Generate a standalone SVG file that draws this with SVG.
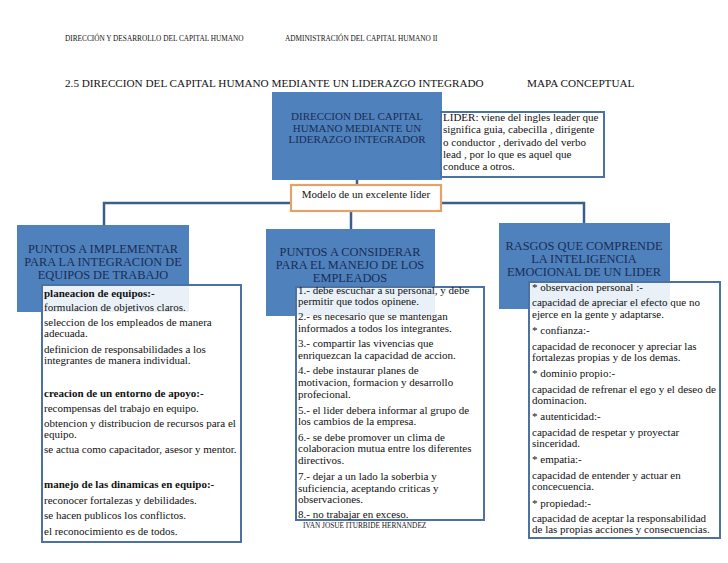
<svg xmlns="http://www.w3.org/2000/svg" width="728" height="563" viewBox="0 0 728 563">
<style>
text{font-family:"Liberation Serif","Times New Roman",serif;fill:#111}
.hdr{font-size:7.3px}
.ttl{font-size:11.2px}
.blue{fill:#4f81bd}
.head{fill:#1a2d55;font-size:12.4px;text-anchor:middle}
.chead{fill:#1a2d55;font-size:11px;text-anchor:middle}
.card{fill:#fff;fill-opacity:0.88;stroke:#4d71a0;stroke-width:2}
.body{font-size:11px}
.b{font-weight:bold}
.conn{stroke:#3b5f8c;stroke-width:2.5;fill:none}
</style>
<rect width="728" height="563" fill="#fff"/>
<text class="hdr" x="65" y="41">DIRECCIÓN Y DESARROLLO DEL CAPITAL HUMANO</text>
<text class="hdr" x="285" y="41">ADMINISTRACIÓN DEL CAPITAL HUMANO II</text>
<text class="ttl" x="65" y="87">2.5 DIRECCION DEL CAPITAL HUMANO MEDIANTE UN LIDERAZGO  INTEGRADO</text>
<text class="ttl" x="527" y="87">MAPA CONCEPTUAL</text>

<g id="connectors">
<path class="conn" d="M357 180V185"/>
<path class="conn" d="M104 226V203H291"/>
<path class="conn" d="M441 203H584V223"/>
<path class="conn" d="M351 211V229"/>
</g>

<g id="central">
<rect class="blue" x="272" y="92" width="170" height="88"/>
<text class="chead" x="357" y="120">DIRECCION DEL CAPITAL</text>
<text class="chead" x="357" y="131.7">HUMANO MEDIANTE UN</text>
<text class="chead" x="357" y="143">LIDERAZGO INTEGRADOR</text>
</g>

<g id="lider">
<rect x="441" y="112" width="163" height="65" fill="#fff" stroke="#4d71a0" stroke-width="2"/>
<text class="body" x="443" y="121">LIDER: viene del ingles leader que</text>
<text class="body" x="443" y="133.3">significa guia, cabecilla , dirigente</text>
<text class="body" x="443" y="145.7">o conductor , derivado  del verbo</text>
<text class="body" x="443" y="157.7">lead , por lo que es aquel que</text>
<text class="body" x="443" y="169.5">conduce a otros.</text>
</g>

<g id="modelo">
<rect x="291" y="185" width="150" height="26" fill="#fff" stroke="#e3a26a" stroke-width="2.2"/>
<text class="body" x="366" y="198" text-anchor="middle">Modelo de un excelente líder</text>
</g>

<g id="implementar">
<rect class="blue" x="17" y="225" width="172" height="87"/>
<text class="head" x="103" y="253">PUNTOS A IMPLEMENTAR</text>
<text class="head" x="103" y="266">PARA LA INTEGRACION DE</text>
<text class="head" x="103" y="279">EQUIPOS DE TRABAJO</text>
<rect class="card" x="42" y="285" width="199" height="257"/>
<text class="body b" x="44" y="296.5">planeacion de equipos:-</text>
<text class="body" x="44" y="311">formulacion de objetivos claros.</text>
<text class="body" x="44" y="326">seleccion de los empleados de manera</text>
<text class="body" x="44" y="337">adecuada.</text>
<text class="body" x="44" y="353">definicion de responsabilidades a los</text>
<text class="body" x="44" y="364">integrantes de manera individual.</text>
<text class="body b" x="44" y="397">creacion de un entorno de apoyo:-</text>
<text class="body" x="44" y="411.5">recompensas del trabajo en equipo.</text>
<text class="body" x="44" y="427">obtencion y distribucion de recursos para el</text>
<text class="body" x="44" y="437.5">equipo.</text>
<text class="body" x="44" y="453">se actua como capacitador, asesor y mentor.</text>
<text class="body b" x="44" y="488">manejo de las dinamicas en equipo:-</text>
<text class="body" x="44" y="503.5">reconocer fortalezas y debilidades.</text>
<text class="body" x="44" y="519">se hacen publicos los conflictos.</text>
<text class="body" x="44" y="534.5">el reconocimiento es de todos.</text>
</g>

<g id="considerar">
<rect class="blue" x="266" y="229" width="169" height="87"/>
<text class="head" x="350" y="256">PUNTOS A CONSIDERAR</text>
<text class="head" x="350" y="269">PARA EL MANEJO DE LOS</text>
<text class="head" x="350" y="282">EMPLEADOS</text>
<rect class="card" x="296" y="287" width="188" height="233"/>
<text class="body" x="298" y="293.5">1.- debe escuchar a su personal, y debe</text>
<text class="body" x="298" y="305">permitir que todos opinene.</text>
<text class="body" x="298" y="320">2.- es necesario que se mantengan</text>
<text class="body" x="298" y="331.5">informados a todos los integrantes.</text>
<text class="body" x="298" y="347">3.- compartir las vivencias que</text>
<text class="body" x="298" y="359">enriquezcan la capacidad de accion.</text>
<text class="body" x="298" y="374">4.- debe instaurar planes de</text>
<text class="body" x="298" y="385.7">motivacion, formacion y desarrollo</text>
<text class="body" x="298" y="397.5">profecional.</text>
<text class="body" x="298" y="413.5">5.- el lider debera informar al grupo de</text>
<text class="body" x="298" y="425">los cambios de la empresa.</text>
<text class="body" x="298" y="440.7">6.- se debe promover un clima de</text>
<text class="body" x="298" y="452">colaboracion mutua entre los diferentes</text>
<text class="body" x="298" y="464">directivos.</text>
<text class="body" x="298" y="480">7.- dejar a un lado la soberbia y</text>
<text class="body" x="298" y="491.7">suficiencia, aceptando criticas y</text>
<text class="body" x="298" y="502.5">observaciones.</text>
<text class="body" x="298" y="518">8.- no trabajar en exceso.</text>
</g>
<text class="hdr" x="303" y="527.5">IVAN JOSUE ITURBIDE HERNANDEZ</text>

<g id="rasgos">
<rect class="blue" x="499" y="223" width="171" height="86"/>
<text class="head" x="584" y="250">RASGOS QUE COMPRENDE</text>
<text class="head" x="584" y="263">LA INTELIGENCIA</text>
<text class="head" x="584" y="276">EMOCIONAL DE UN LIDER</text>
<rect class="card" x="529" y="282" width="191" height="256"/>
<text class="body" x="532" y="290.5">* observacion personal :-</text>
<text class="body" x="532" y="306">capacidad de apreciar el efecto que no</text>
<text class="body" x="532" y="317.5">ejerce en la gente y adaptarse.</text>
<text class="body" x="532" y="334">* confianza:-</text>
<text class="body" x="532" y="349.5">capacidad de reconocer y apreciar las</text>
<text class="body" x="532" y="361">fortalezas propias y de los demas.</text>
<text class="body" x="532" y="377">* dominio propio:-</text>
<text class="body" x="532" y="393">capacidad de refrenar el ego y el deseo de</text>
<text class="body" x="532" y="404">dominacion.</text>
<text class="body" x="532" y="420">* autenticidad:-</text>
<text class="body" x="532" y="436">capacidad de respetar y proyectar</text>
<text class="body" x="532" y="446.5">sinceridad.</text>
<text class="body" x="532" y="463">* empatia:-</text>
<text class="body" x="532" y="478.5">capacidad de entender y actuar en</text>
<text class="body" x="532" y="490">concecuencia.</text>
<text class="body" x="532" y="507">* propiedad:-</text>
<text class="body" x="532" y="521.5">capacidad de aceptar la responsabilidad</text>
<text class="body" x="532" y="533">de las propias acciones y consecuencias.</text>
</g>
</svg>
